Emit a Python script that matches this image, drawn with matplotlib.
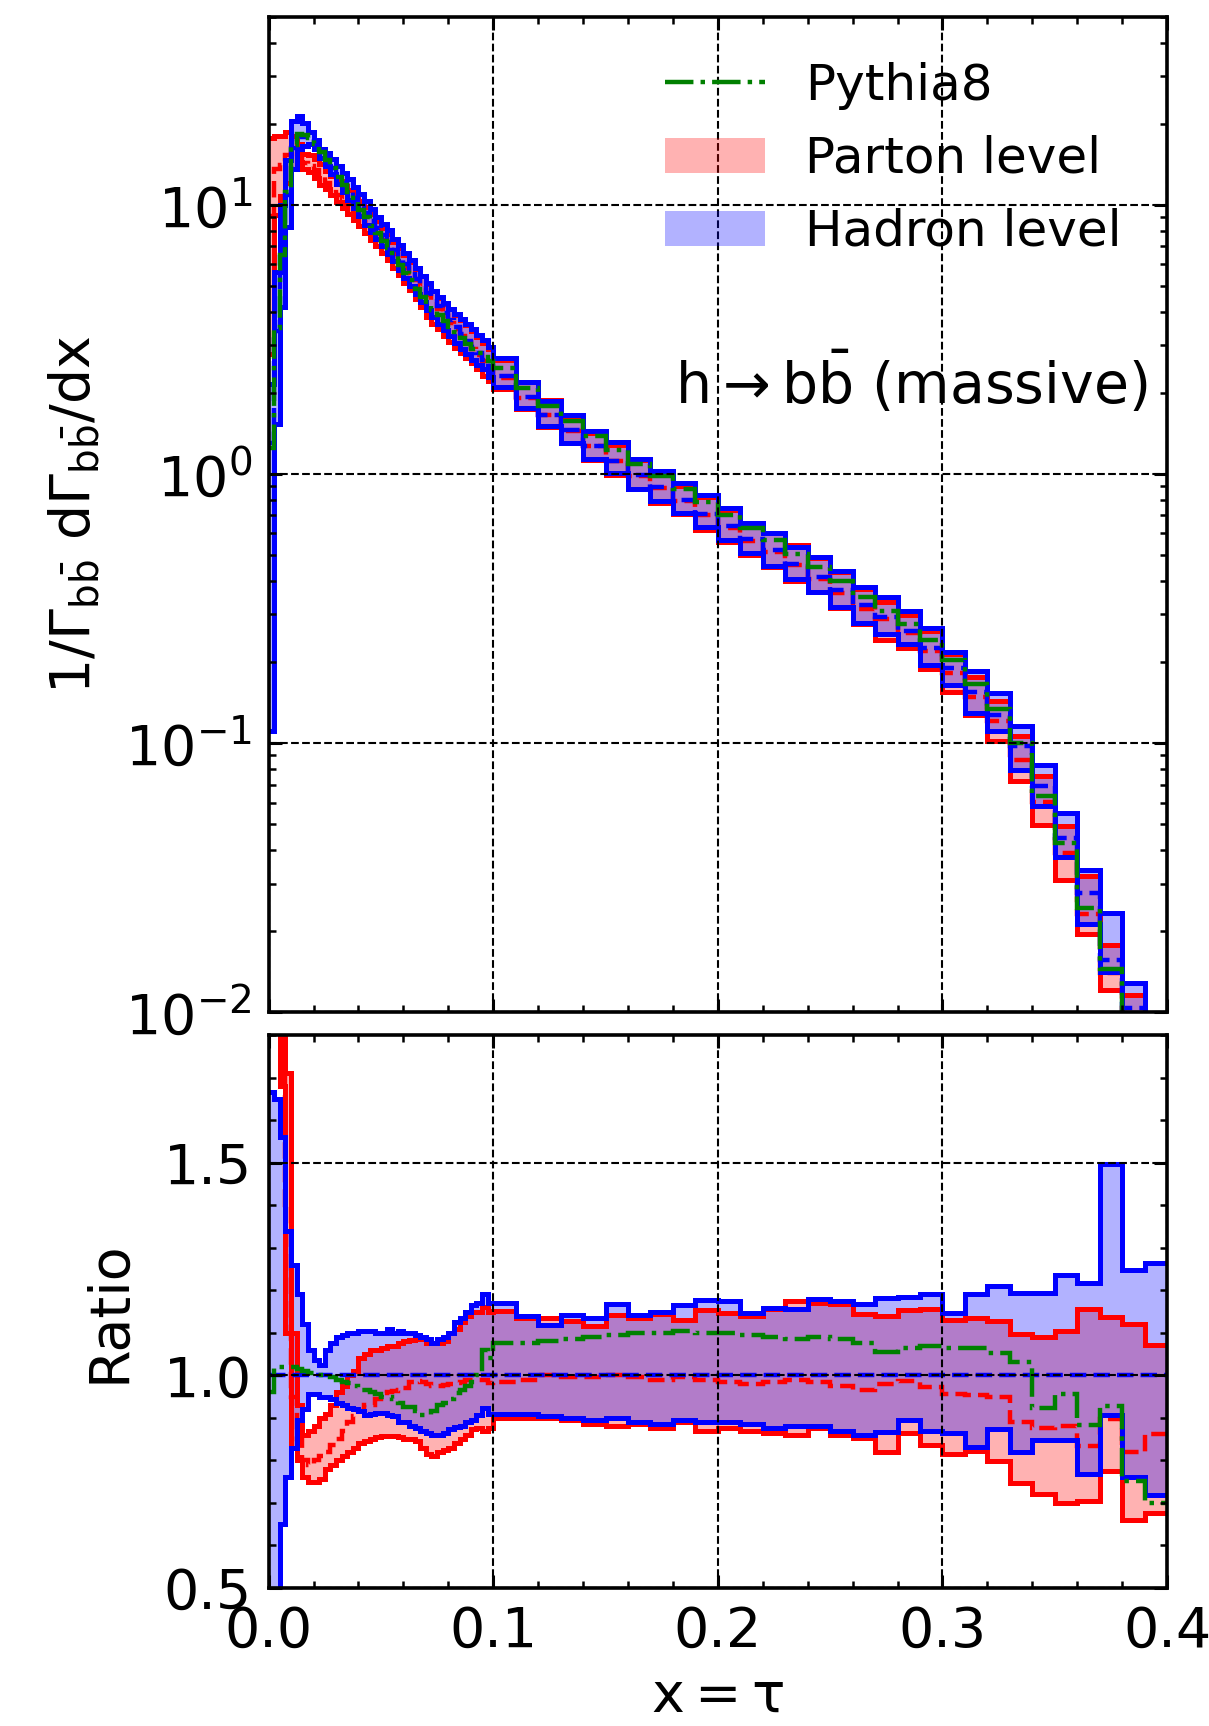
import numpy as np
import matplotlib
matplotlib.use('Agg')
import matplotlib.pyplot as plt
from matplotlib.lines import Line2D
from matplotlib.patches import Patch
from matplotlib.ticker import MultipleLocator

plt.rcParams['font.family'] = 'DejaVu Sans'
plt.rcParams['mathtext.default'] = 'regular'

# ==========================================
# 1. BINNING AND HISTOGRAM VALUES
# ==========================================
# 0.0025 wide bins up to 0.1, then 0.01 wide bins up to 0.4
edges = np.concatenate([np.linspace(0.0, 0.1, 41), np.linspace(0.11, 0.4, 30)])

# hadron level central value, 1/G dG/dx
hadron_central = [
    1.30, 3.4, 6.4, 10.9, 16.3, 18.0, 17.9, 17.6, 16.8, 15.7,
    14.7, 13.7, 12.8, 12.0, 11.3, 10.6, 9.9, 9.3, 8.7, 8.2,
    7.7, 7.25, 6.8, 6.4, 6.0, 5.65, 5.3, 5.0, 4.7, 4.45,
    4.2, 3.95, 3.72, 3.5, 3.3, 3.12, 2.95, 2.8, 2.65, 2.52,
    2.30, 1.93, 1.66, 1.45, 1.27, 1.12, 0.99, 0.893, 0.796, 0.711,
    0.637, 0.574, 0.519, 0.463, 0.414, 0.369, 0.325, 0.294, 0.26, 0.225,
    0.19, 0.155, 0.127, 0.097, 0.069, 0.0444, 0.0277, 0.0156, 0.0103, 0.0075]

# everything below is relative to the hadron level central value
hadron_hi = [
    1.665, 1.65, 1.56, 1.34, 1.26, 1.19, 1.12, 1.06, 1.035, 1.025,
    1.06, 1.075, 1.09, 1.095, 1.10, 1.10, 1.105, 1.105, 1.105, 1.10,
    1.10, 1.11, 1.10, 1.105, 1.10, 1.10, 1.095, 1.09, 1.085, 1.075,
    1.085, 1.09, 1.10, 1.125, 1.135, 1.15, 1.165, 1.17, 1.19, 1.17,
    1.17, 1.139, 1.118, 1.142, 1.134, 1.167, 1.142, 1.15, 1.165, 1.177,
    1.174, 1.146, 1.158, 1.156, 1.18, 1.175, 1.168, 1.181, 1.185, 1.19,
    1.147, 1.19, 1.21, 1.194, 1.194, 1.237, 1.217, 1.498, 1.247, 1.265]

hadron_lo = [
    0.085, 0.45, 0.65, 0.76, 0.83, 0.895, 0.92, 0.955, 0.955, 0.95,
    0.95, 0.945, 0.935, 0.93, 0.924, 0.92, 0.916, 0.907, 0.91, 0.912,
    0.912, 0.907, 0.905, 0.89, 0.89, 0.88, 0.875, 0.87, 0.865, 0.86,
    0.86, 0.865, 0.874, 0.878, 0.88, 0.89, 0.895, 0.907, 0.924, 0.91,
    0.91, 0.91, 0.905, 0.90, 0.895, 0.90, 0.89, 0.885, 0.895, 0.89,
    0.89, 0.885, 0.875, 0.88, 0.88, 0.87, 0.859, 0.867, 0.895, 0.868,
    0.864, 0.832, 0.874, 0.819, 0.847, 0.847, 0.769, 0.906, 0.76, 0.718]

parton_hi = [
    13.6, 5.3, 2.8, 1.71, 1.10, 0.93, 0.86, 0.87, 0.88, 0.90,
    0.91, 0.93, 0.96, 0.975, 1.0, 1.01, 1.04, 1.05, 1.06, 1.06,
    1.065, 1.07, 1.07, 1.075, 1.08, 1.084, 1.09, 1.085, 1.076, 1.076,
    1.075, 1.08, 1.10, 1.11, 1.126, 1.14, 1.15, 1.15, 1.16, 1.15,
    1.152, 1.135, 1.134, 1.127, 1.116, 1.142, 1.134, 1.143, 1.13, 1.153,
    1.147, 1.139, 1.156, 1.175, 1.17, 1.167, 1.143, 1.139, 1.153, 1.157,
    1.13, 1.135, 1.128, 1.097, 1.091, 1.103, 1.157, 1.136, 1.12, 1.072]

parton_mid = [
    7.0, 4.0, 2.2, 1.4, 0.95, 0.85, 0.80, 0.79, 0.80, 0.81,
    0.82, 0.835, 0.85, 0.87, 0.89, 0.905, 0.915, 0.93, 0.93, 0.945,
    0.958, 0.96, 0.962, 0.966, 0.97, 0.985, 0.987, 0.985, 0.98, 0.975,
    0.975, 0.978, 0.98, 0.982, 0.985, 0.99, 0.99, 0.99, 0.99, 0.983,
    0.985, 0.99, 1.0, 0.995, 0.995, 1.0, 0.995, 0.99, 0.995, 0.99,
    0.985, 0.98, 0.985, 0.99, 0.985, 0.975, 0.966, 0.979, 0.987, 0.972,
    0.956, 0.954, 0.95, 0.89, 0.875, 0.88, 0.833, 0.897, 0.819, 0.861]

parton_lo = [
    2.15, 2.7, 1.68, 1.10, 0.83, 0.80, 0.76, 0.75, 0.75, 0.755,
    0.78, 0.79, 0.80, 0.81, 0.82, 0.83, 0.84, 0.845, 0.85, 0.855,
    0.857, 0.857, 0.857, 0.855, 0.85, 0.85, 0.845, 0.83, 0.815, 0.81,
    0.82, 0.825, 0.83, 0.84, 0.85, 0.86, 0.874, 0.875, 0.87, 0.875,
    0.90, 0.90, 0.90, 0.895, 0.885, 0.88, 0.885, 0.875, 0.89, 0.87,
    0.875, 0.87, 0.865, 0.86, 0.875, 0.86, 0.853, 0.819, 0.865, 0.836,
    0.815, 0.821, 0.798, 0.747, 0.72, 0.699, 0.705, 0.775, 0.659, 0.676]

pythia = [
    0.96, 1.02, 1.02, 1.02, 1.02, 1.015, 1.01, 1.005, 1.0, 1.0,
    1.0, 0.995, 0.99, 0.985, 0.983, 0.975, 0.966, 0.966, 0.96, 0.955,
    0.95, 0.95, 0.945, 0.935, 0.925, 0.925, 0.915, 0.907, 0.907, 0.915,
    0.93, 0.935, 0.945, 0.958, 0.965, 0.975, 0.985, 1.0, 1.06, 1.04,
    1.076, 1.076, 1.08, 1.085, 1.09, 1.095, 1.10, 1.10, 1.105, 1.10,
    1.10, 1.095, 1.09, 1.085, 1.09, 1.085, 1.076, 1.055, 1.065, 1.069,
    1.065, 1.063, 1.052, 1.032, 0.923, 0.956, 0.882, 0.928, 0.752, 0.70]

central = np.array(hadron_central)
series = {name: np.array(vals) for name, vals in [
    ('hadron_hi', hadron_hi), ('hadron_lo', hadron_lo),
    ('parton_hi', parton_hi), ('parton_mid', parton_mid), ('parton_lo', parton_lo),
    ('pythia', pythia)]}

# ==========================================
# 2. FIGURE
# ==========================================
fig = plt.figure(figsize=(6.045, 8.63), dpi=200)
ax1 = fig.add_axes([0.2222, 0.4137, 0.7431, 0.5767])
ax2 = fig.add_axes([0.2222, 0.0800, 0.7431, 0.3203], sharex=ax1)


def draw_panel(ax, scale):
    s = series
    ax.stairs(s['parton_hi'] * scale, edges, baseline=s['parton_lo'] * scale,
              fill=True, color='red', alpha=0.3, lw=0)
    ax.stairs(s['hadron_hi'] * scale, edges, baseline=s['hadron_lo'] * scale,
              fill=True, color='blue', alpha=0.3, lw=0)
    for key in ('parton_hi', 'parton_lo'):
        ax.stairs(s[key] * scale, edges, baseline=None, color='red', lw=1.8)
    ax.stairs(s['parton_mid'] * scale, edges, baseline=None, color='red', lw=1.6, ls='--')
    for key in ('hadron_hi', 'hadron_lo'):
        ax.stairs(s[key] * scale, edges, baseline=None, color='blue', lw=1.8)
    ax.stairs(np.ones_like(central) * scale, edges, baseline=None, color='blue', lw=1.6, ls='--')
    ax.stairs(s['pythia'] * scale, edges, baseline=None, color='green', lw=1.6, ls='-.')


draw_panel(ax1, central)
draw_panel(ax2, np.ones_like(central))

ax1.set_yscale('log')
ax1.set_ylim(0.01, 50)
ax2.set_xlim(0.0, 0.4)
ax2.set_ylim(0.5, 1.8)
ax2.xaxis.set_major_locator(MultipleLocator(0.1))
ax2.xaxis.set_minor_locator(MultipleLocator(0.02))
ax2.yaxis.set_major_locator(MultipleLocator(0.5))
ax2.yaxis.set_minor_locator(MultipleLocator(0.1))

for ax in (ax1, ax2):
    ax.set_axisbelow(False)
    ax.grid(True, which='major', ls='--', color='k', lw=0.75)
    ax.tick_params(which='both', direction='in', top=True, right=True, labelsize=20, pad=6)
    ax.tick_params(which='major', length=4.7, width=1.1)
    ax.tick_params(which='minor', length=2.5, width=0.9)
    for sp in ax.spines.values():
        sp.set_linewidth(1.3)
ax1.tick_params(labelbottom=False)

ax1.set_ylabel(r'$1/\Gamma_{b\bar{\mathrm{b}}}\ d\Gamma_{b\bar{\mathrm{b}}}/dx$', fontsize=20, labelpad=8)
ax2.set_ylabel('Ratio', fontsize=20, labelpad=10)
ax2.set_xlabel(r'$x = \tau$', fontsize=20)

ax1.text(0.978, 0.632, r'$h \rightarrow b\bar{\mathrm{b}}$ (massive)', transform=ax1.transAxes,
         ha='right', va='center', fontsize=20.5)

handles = [Line2D([], [], color='green', ls='-.', lw=1.6),
           Patch(facecolor='red', alpha=0.3),
           Patch(facecolor='blue', alpha=0.3)]
ax1.legend(handles, ['Pythia8', 'Parton level', 'Hadron level'],
           loc='upper right', frameon=False, fontsize=18)

fig.savefig('out.png', dpi=200)
plt.close(fig)
